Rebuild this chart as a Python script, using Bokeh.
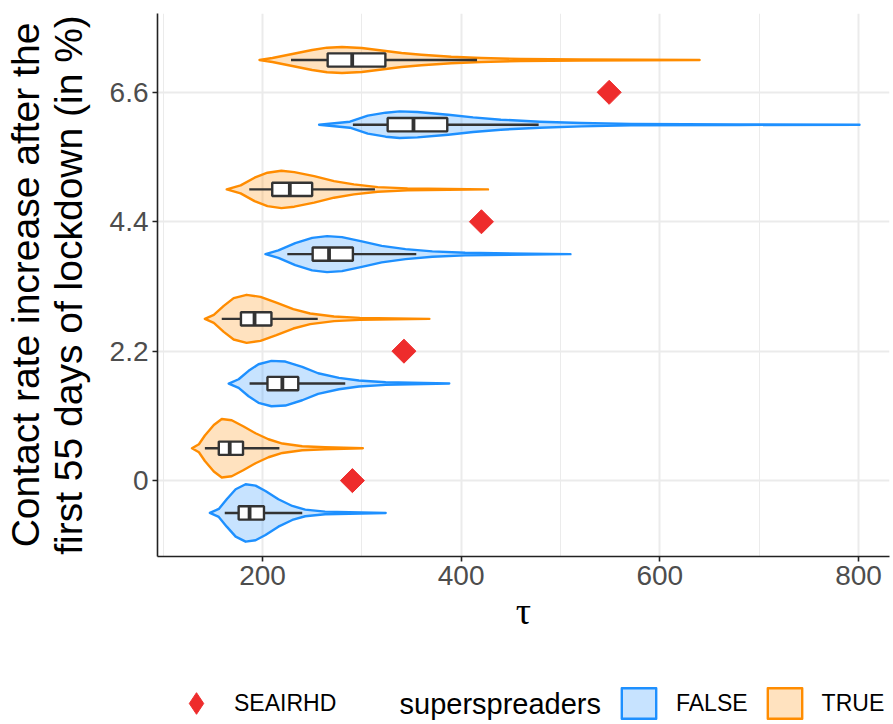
import numpy as np
from bokeh.plotting import figure
from bokeh.layouts import column
from bokeh.models import (ColumnDataSource, FixedTicker, Legend, LegendItem, Range1d, Label)
from bokeh.embed import file_html
from bokeh.resources import INLINE

# ---------------- data ----------------
contact_rate = [0, 2.2, 4.4, 6.6]
tick_labels = ["0", "2.2", "4.4", "6.6"]
x_ticks = [200, 400, 600, 800]
x_minor = [100, 300, 500, 700]

seairhd_tau = [290.5, 342.4, 420.4, 549.0]

# violin outlines (tau, half-width in y units) - superspreaders FALSE
f0_tau = [147, 156, 164, 173, 183, 193, 203, 216, 230, 243, 263, 324]
f0_hw = [0, 0.068, 0.233, 0.403, 0.488, 0.464, 0.374, 0.233, 0.119, 0.056, 0.022, 0]
f1_tau = [166, 176, 186, 196, 209, 223, 240, 256, 277, 297, 324, 388]
f1_hw = [0, 0.073, 0.216, 0.328, 0.386, 0.374, 0.284, 0.175, 0.097, 0.051, 0.022, 0]
f2_tau = [203, 216, 233, 250, 265, 280, 300, 320, 344, 371, 404, 510]
f2_hw = [0, 0.063, 0.187, 0.277, 0.306, 0.289, 0.216, 0.141, 0.085, 0.046, 0.022, 0]
f3_tau = [257, 288, 306, 324, 338, 356, 387, 412, 440, 479, 521, 571, 680, 801]
f3_hw = [0, 0.051, 0.153, 0.204, 0.226, 0.216, 0.170, 0.124, 0.085, 0.051, 0.029, 0.012, 0.005, 0]

# superspreaders TRUE
t0_tau = [129, 136, 142, 151, 159, 169, 181, 193, 206, 220, 240, 263, 301]
t0_hw = [0, 0.068, 0.216, 0.396, 0.498, 0.476, 0.369, 0.255, 0.153, 0.080, 0.034, 0.017, 0]
t1_tau = [142, 151, 161, 171, 184, 198, 214, 231, 248, 272, 298, 368]
t1_hw = [0, 0.068, 0.221, 0.352, 0.408, 0.374, 0.277, 0.165, 0.090, 0.039, 0.017, 0]
t2_tau = [164, 178, 192, 205, 219, 232, 252, 272, 292, 316, 346, 427]
t2_hw = [0, 0.068, 0.199, 0.284, 0.318, 0.294, 0.226, 0.141, 0.085, 0.039, 0.017, 0]
t3_tau = [197, 210, 230, 250, 265, 280, 300, 320, 340, 360, 390, 420, 460, 520, 640]
t3_hw = [0, 0.034, 0.102, 0.170, 0.209, 0.221, 0.204, 0.162, 0.119, 0.090, 0.056, 0.034, 0.017, 0.009, 0]

# box stats: lower whisker, q1, median, q3, upper whisker
false_lo = [162, 187, 225, 291]
false_q1 = [176, 205, 250.5, 326]
false_med = [187, 220, 267, 352]
false_q3 = [201.5, 236, 291, 386]
false_hi = [240, 283.3, 354.8, 478]

true_lo = [142, 159, 186.7, 228.7]
true_q1 = [156, 178.3, 209.8, 265.6]
true_med = [167, 192, 227.5, 290.3]
true_q3 = [180.4, 209, 250, 323.7]
true_hi = [217, 255.6, 313.2, 416]

false_profiles = [(f0_tau, f0_hw), (f1_tau, f1_hw), (f2_tau, f2_hw), (f3_tau, f3_hw)]
true_profiles = [(t0_tau, t0_hw), (t1_tau, t1_hw), (t2_tau, t2_hw), (t3_tau, t3_hw)]

legend_title = "superspreaders"
legend_labels = ["SEAIRHD", "FALSE", "TRUE"]

# ---------------- style ----------------
DODGE = 0.55
BOX_HALF = 0.113
BLUE = "#1E90FF"
ORANGE = "#FF8C00"
DARK = "#333333"
AXIS = "#222222"
RED = "#EE2C2C"
FONT = "Liberation Sans"

p = figure(frame_width=732, frame_height=543,
           x_range=Range1d(94.3, 831.2), y_range=Range1d(-1.29, 7.94),
           output_backend="svg", toolbar_location=None,
           min_border_left=157, min_border_right=4, min_border_top=13,
           min_border_bottom=120)
p.outline_line_color = None
p.background_fill_color = "white"
p.border_fill_color = "white"


def violin_source(profiles, offset):
    xs, ys = [], []
    for (tau, hw), c in zip(profiles, contact_rate):
        tau = list(tau)
        hw = list(hw)
        cy = c + offset
        xs.append(tau + tau[::-1])
        ys.append([cy + h for h in hw] + [cy - h for h in hw[::-1]])
    return ColumnDataSource(dict(xs=xs, ys=ys))


violin_kw = dict(fill_alpha=0.25, line_width=2.4, line_join="round")
p.patches("xs", "ys", source=violin_source(false_profiles, -DODGE),
          fill_color=BLUE, line_color=BLUE, **violin_kw)
p.patches("xs", "ys", source=violin_source(true_profiles, DODGE),
          fill_color=ORANGE, line_color=ORANGE, **violin_kw)

ys_false = [c - DODGE for c in contact_rate]
ys_true = [c + DODGE for c in contact_rate]
box_src = ColumnDataSource(dict(
    y=ys_false + ys_true,
    lo=false_lo + true_lo, q1=false_q1 + true_q1, med=false_med + true_med,
    q3=false_q3 + true_q3, hi=false_hi + true_hi,
))
box_src.data["top"] = [y + BOX_HALF for y in box_src.data["y"]]
box_src.data["bottom"] = [y - BOX_HALF for y in box_src.data["y"]]

p.segment(x0="lo", y0="y", x1="hi", y1="y", source=box_src,
          line_color=DARK, line_width=2.4)
p.quad(left="q1", right="q3", top="top", bottom="bottom", source=box_src,
       fill_color="white", line_color=DARK, line_width=2.4)
p.segment(x0="med", y0="bottom", x1="med", y1="top", source=box_src,
          line_color=DARK, line_width=3.8)

p.scatter(seairhd_tau, contact_rate, marker="square", angle=np.pi / 4,
          size=17, fill_color=RED, line_color=RED)

# ---------------- axes ----------------
p.xaxis.ticker = FixedTicker(ticks=x_ticks, minor_ticks=x_minor)
p.yaxis.ticker = FixedTicker(ticks=contact_rate)
p.yaxis.major_label_overrides = {c: l for c, l in zip(contact_rate, tick_labels)}

p.xgrid.grid_line_color = "#EBEBEB"
p.xgrid.grid_line_width = 2
p.xgrid.minor_grid_line_color = "#EBEBEB"
p.xgrid.minor_grid_line_width = 1
p.ygrid.grid_line_color = "#EBEBEB"
p.ygrid.grid_line_width = 2

for ax in (p.xaxis[0], p.yaxis[0]):
    ax.axis_line_color = AXIS
    ax.axis_line_width = 1.6
    ax.major_tick_line_color = AXIS
    ax.major_tick_line_width = 1.6
    ax.major_tick_out = 5
    ax.major_tick_in = 0
    ax.minor_tick_line_color = None
    ax.major_label_text_font = FONT
    ax.major_label_text_font_size = "28px"
    ax.major_label_text_color = "#4D4D4D"
    ax.major_label_standoff = 4
    ax.axis_label_text_font_style = "normal"
    ax.axis_label_text_color = "black"

p.xaxis.axis_label = "τ"
p.xaxis.axis_label_text_font = "Liberation Serif"
p.xaxis.axis_label_text_font_size = "38px"
p.xaxis.axis_label_standoff = 2

p.yaxis.axis_label = "Contact rate increase after the\nfirst 55 days of lockdown (in %)"
p.yaxis.axis_label_text_font = FONT
p.yaxis.axis_label_text_font_size = "39px"
p.yaxis.axis_label_text_line_height = 1.0
p.yaxis.axis_label_standoff = 17

# ---------------- legend (strip below the plot; frame aligned with plot frame) ----------------
lf = figure(width=893, height=48, x_range=Range1d(0, 1), y_range=Range1d(0, 1),
            output_backend="svg", toolbar_location=None,
            x_axis_type=None, y_axis_type=None, min_border=0)
lf.outline_line_color = None
lf.grid.visible = False
lf.border_fill_color = "white"

# legend key renderers (their data lie outside the strip's visible range)
k_seair = lf.scatter([-5], [-5], marker="diamond", size=24,
                     fill_color=RED, line_color=RED)
k_false = lf.patches([[-5, -4, -4]], [[-5, -5, -4]], fill_color=BLUE,
                     line_color=BLUE, **violin_kw)
k_true = lf.patches([[-5, -4, -4]], [[-5, -5, -4]], fill_color=ORANGE,
                    line_color=ORANGE, **violin_kw)


def style_legend(lg):
    lg.background_fill_alpha = 0
    lg.border_line_color = None
    lg.padding = 0
    lg.margin = 0
    lg.label_text_font = FONT
    lg.label_text_font_size = "23px"
    lg.label_text_color = "black"


leg1 = Legend(items=[LegendItem(label=legend_labels[0], renderers=[k_seair], index=0)],
              orientation="horizontal", location=(12, -6))
style_legend(leg1)
leg1.glyph_width = 54
leg1.glyph_height = 54
leg1.label_standoff = 11
lf.add_layout(leg1, "center")

leg2 = Legend(items=[LegendItem(label=legend_labels[1], renderers=[k_false], index=0),
                     LegendItem(label=legend_labels[2], renderers=[k_true], index=0)],
              orientation="horizontal", location=(460, 2))
style_legend(leg2)
leg2.glyph_width = 43
leg2.glyph_height = 38
leg2.label_standoff = 16
leg2.spacing = 15
lf.add_layout(leg2, "center")

lf.add_layout(Label(x=242, y=21, x_units="screen", y_units="screen",
                    text=legend_title, text_font=FONT, text_font_size="29px",
                    text_color="black", text_baseline="middle",
                    text_align="left"))

layout = column(p, lf, spacing=0)
open("out.html", "w").write(file_html(layout, INLINE))
